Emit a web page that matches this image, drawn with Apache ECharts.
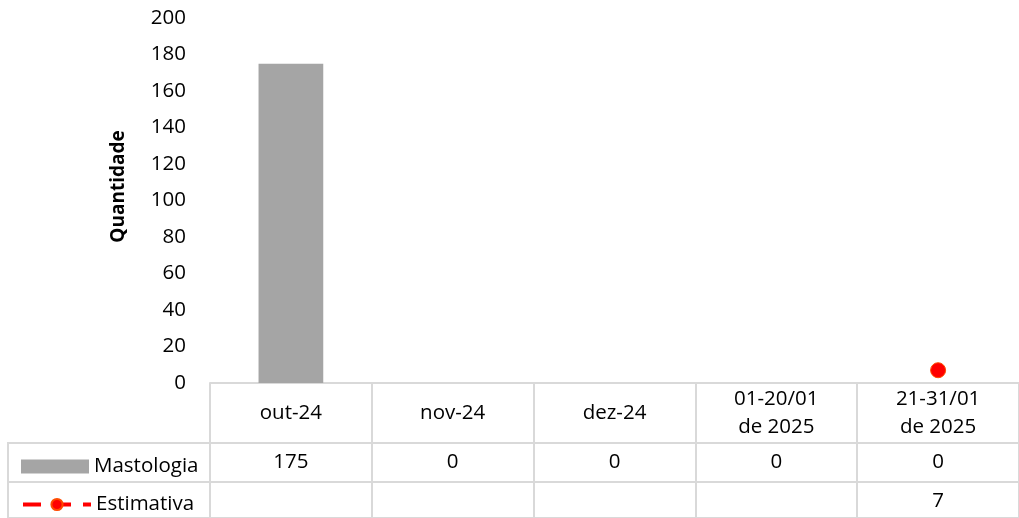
<!DOCTYPE html>
<html>
<head>
<meta charset="utf-8">
<script src="https://cdn.jsdelivr.net/npm/echarts@6/dist/echarts.min.js"></script>
<style>
  html, body { margin: 0; padding: 0; background: #fff; }
  #chart { width: 1019px; height: 518px; }
</style>
</head>
<body>
<div id="chart"></div>
<script>
// dados do gráfico
var categorias = ['out-24', 'nov-24', 'dez-24', '01-20/01\nde 2025', '21-31/01\nde 2025'];
var mastologia = [175, 0, 0, 0, 0];
var estimativa = [null, null, null, null, 7];
var yTicks = [0, 200, 20]; // min, max, intervalo

var fonte = '"Open Sans", "Noto Sans", sans-serif';
var tamanho = 20.5;
var cinzaBorda = '#d9d9d9';

var chart = echarts.init(document.getElementById('chart'));

function linhaTabela(offset, valores) {
    return {
        type: 'category',
        gridIndex: 0,
        position: 'bottom',
        offset: offset,
        data: categorias,
        axisLine: { show: false },
        axisTick: { show: false },
        axisLabel: {
            margin: 0,
            verticalAlign: 'middle',
            fontFamily: fonte,
            fontSize: tamanho,
            color: '#000',
            formatter: function (v, i) {
                return valores[i] == null ? '' : String(valores[i]);
            }
        }
    };
}

var option = {
    animation: false,
    backgroundColor: '#fff',
    grid: [
        { left: 210, top: 18, width: 817, height: 365 },
        { left: 8, top: 443, width: 1030, height: 39, show: true, borderColor: cinzaBorda, borderWidth: 2 },
        { left: 8, top: 482, width: 1030, height: 60, show: true, borderColor: cinzaBorda, borderWidth: 2 }
    ],
    legend: [
        {
            data: [{ name: 'Mastologia', icon: 'rect' }],
            left: 16, top: 451,
            itemWidth: 68, itemHeight: 14,
            textStyle: { fontFamily: fonte, fontSize: tamanho, color: '#000' }
        },
        {
            data: ['Estimativa'],
            left: 16, top: 489,
            itemWidth: 68, itemHeight: 14,
            lineStyle: { width: 4, type: [18, 12] },
            textStyle: { fontFamily: fonte, fontSize: tamanho, color: '#000' }
        }
    ],
    xAxis: [
        {
            type: 'category',
            gridIndex: 0,
            data: categorias,
            axisLine: { lineStyle: { color: cinzaBorda, width: 2 } },
            axisTick: { show: true, length: 135, lineStyle: { color: cinzaBorda, width: 2 } },
            axisLabel: {
                margin: 30,
                verticalAlign: 'middle',
                lineHeight: 28,
                fontFamily: fonte,
                fontSize: tamanho,
                color: '#000'
            }
        },
        linhaTabela(79, mastologia),
        linhaTabela(118, estimativa),
        { type: 'value', gridIndex: 1, show: false },
        { type: 'value', gridIndex: 2, show: false }
    ],
    yAxis: [
        {
            type: 'value',
            gridIndex: 0,
            min: yTicks[0],
            max: yTicks[1],
            interval: yTicks[2],
            name: 'Quantidade',
            nameLocation: 'middle',
            nameRotate: 90,
            nameGap: 82,
            nameTextStyle: {
                fontFamily: fonte,
                fontSize: 19,
                fontWeight: 'bold',
                color: '#000',
                padding: [0, 0, 0, 28]
            },
            axisLine: { show: false },
            axisTick: { show: false },
            splitLine: { show: false },
            axisLabel: { margin: 24, fontFamily: fonte, fontSize: tamanho, color: '#000' }
        },
        { type: 'value', gridIndex: 1, show: false },
        { type: 'value', gridIndex: 2, show: false }
    ],
    series: [
        {
            name: 'Mastologia',
            type: 'bar',
            xAxisIndex: 0,
            yAxisIndex: 0,
            barWidth: '40%',
            itemStyle: { color: '#a5a5a5' },
            data: mastologia
        },
        {
            name: 'Estimativa',
            type: 'line',
            xAxisIndex: 0,
            yAxisIndex: 0,
            symbol: 'circle',
            symbolSize: 15,
            showSymbol: true,
            itemStyle: { color: '#ff0000', borderColor: '#ff4a00', borderWidth: 1 },
            lineStyle: { color: '#ff0000', width: 4, type: [18, 12] },
            data: estimativa
        }
    ]
};

chart.setOption(option);
</script>
</body>
</html>
